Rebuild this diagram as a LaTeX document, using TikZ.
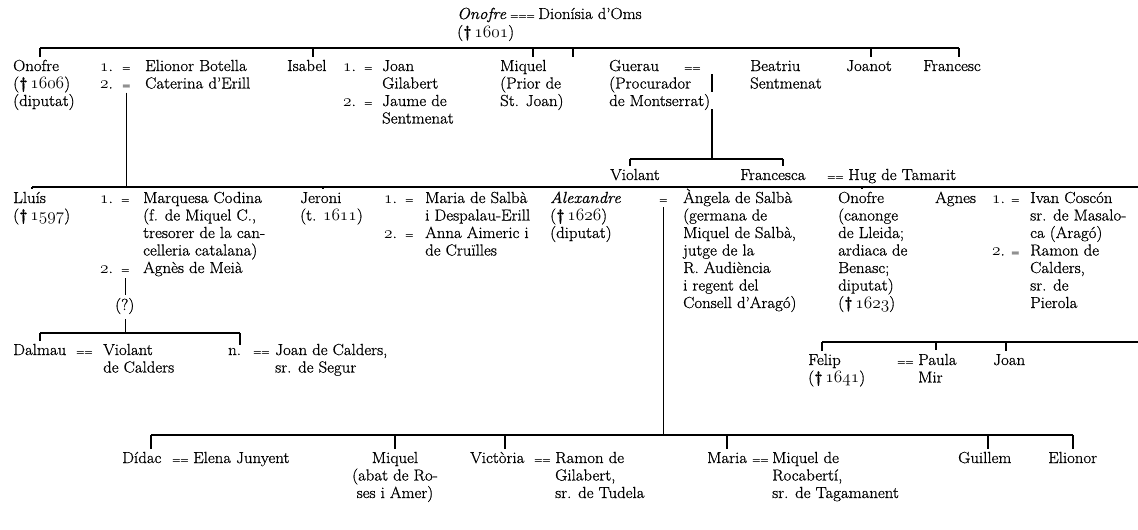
\documentclass[tikz,border=0pt]{standalone}
\usepackage{fontspec}
\setmainfont{Latin Modern Roman}[FakeStretch=1.05, FakeBold=0.8]
\usetikzlibrary{positioning}
\newcommand{\osf}[1]{{\fontencoding{OML}\fontfamily{cmm}\fontseries{m}\fontshape{it}\selectfont #1}}
\newcommand{\dagg}{{\bfseries\textdagger}\,}
\newcommand{\famtxt}[1]{\begin{tabular}[t]{@{}l@{}}#1\end{tabular}}
\newcommand{\famctr}[1]{\begin{tabular}[t]{@{}c@{}}#1\end{tabular}}
\tikzset{
  txt/.style={inner sep=0pt, anchor=base west, font=\fontsize{16}{17.5}\selectfont},
  eqs/.style={txt, font=\fontsize{10}{17.5}\selectfont},
  bar/.style={line width=1.2pt},
}

\begin{document}
\begin{tikzpicture}[x=1pt,y=1pt,yscale=-1,xscale=1]
\useasboundingbox (0,0) rectangle (1138,530);

% Text Node
\node[txt] (onofreA) at (457,19) {\textit{Onofre}};
\node[eqs] (eqA) at (510,19) {===};
\node[txt] (dionisia) at (538,19) {Dionísia d'Oms};
\node[txt] (onofreAx) at (457,37) {(\dagg\osf{1601})};

% Text Node
\node[txt] (onofreB) at (13,71) {Onofre};
\node[txt] (onofreBx) at (13,88.5) {\famtxt{(\dagg\osf{1606})\\(diputat)}};
\node[txt] (n1a) at (100,71) {\osf{1}.};
\node[eqs] (eq1a) at (122,71) {=};
\node[txt] (elionorB) at (145,71) {Elionor Botella};
\node[txt] (n1b) at (100,88.5) {\osf{2}.};
\node[eqs] (eq1b) at (122,88.5) {=};
\node[txt] (caterina) at (145,88.5) {Caterina d'Erill};
\node[txt] (isabel) at (287,71) {Isabel};
\node[txt] (n2a) at (343,71) {\osf{1}.};
\node[eqs] (eq2a) at (364,71) {=};
\node[txt] (joanG) at (382,71) {\famtxt{Joan\\Gilabert}};
\node[txt] (n2b) at (343,106) {\osf{2}.};
\node[eqs] (eq2b) at (364,106) {=};
\node[txt] (jaume) at (382,106) {\famtxt{Jaume de\\Sentmenat}};
\node[txt] (miquelB) at (500,71) {Miquel};
\node[txt] (miquelBx) at (500,88.5) {\famtxt{(Prior de\\St. Joan)}};
\node[txt] (guerau) at (609,71) {Guerau};
\node[txt] (guerauX) at (609,88.5) {\famtxt{(Procurador\\de Montserrat)}};
\node[eqs] (eqG) at (684,71) {==};
\node[txt] (beatriu) at (750,71) {\famtxt{Beatriu\\Sentmenat}};
\node[txt] (joanot) at (846,71) {Joanot};
\node[txt] (francesc) at (923,71) {Francesc};

% Text Node
\node[txt] (violant) at (610,180) {Violant};
\node[txt] (francesca) at (740,180) {Francesca};
\node[eqs] (eqF) at (827,180) {==};
\node[txt] (hug) at (848,180) {Hug de Tamarit};

% Text Node
\node[txt] (lluis) at (13,203) {Lluís};
\node[txt] (lluisX) at (13,220.5) {(\dagg\osf{1597})};
\node[txt] (n4a) at (100,203) {\osf{1}.};
\node[eqs] (eq4a) at (121,203) {=};
\node[txt] (marquesa) at (143,203) {\famtxt{Marquesa Codina\\(f. de Miquel C.,\\tresorer de la can-\\celleria catalana)}};
\node[txt] (n4b) at (100,273) {\osf{2}.};
\node[eqs] (eq4b) at (121,273) {=};
\node[txt] (agnesM) at (143,273) {Agnès de Meià};
\node[txt] (unsure) at (115,310) {(?)};
\node[txt] (jeroni) at (300,203) {Jeroni};
\node[txt] (jeroniX) at (300,220.5) {(t. \osf{1611})};
\node[txt] (n5a) at (384,203) {\osf{1}.};
\node[eqs] (eq5a) at (405,203) {=};
\node[txt] (mariaS) at (425,203) {\famtxt{Maria de Salbà\\i Despalau-Erill}};
\node[txt] (n5b) at (384,238) {\osf{2}.};
\node[eqs] (eq5b) at (405,238) {=};
\node[txt] (anna) at (425,238) {\famtxt{Anna Aimeric i\\de Cruïlles}};
\node[txt] (alexandre) at (550,203) {\textit{Alexandre}};
\node[txt] (alexandreX) at (550,220.5) {\famtxt{(\dagg\osf{1626})\\(diputat)}};
\node[eqs] (eqX) at (659,203) {=};
\node[txt] (angela) at (683,203) {\famtxt{Àngela de Salbà\\(germana de\\Miquel de Salbà,\\jutge de la\\R. Audiència\\i regent del\\Consell d'Aragó)}};
\node[txt] (onofreC) at (838,203) {Onofre};
\node[txt] (onofreCX) at (838,220.5) {\famtxt{(canonge\\de Lleida;\\ardiaca de\\Benasc;\\diputat)\\(\dagg\osf{1623})}};
\node[txt] (agnes) at (935,203) {Agnes};
\node[txt] (n6a) at (992,203) {\osf{1}.};
\node[eqs] (eq6a) at (1011,203) {=};
\node[txt] (ivan) at (1030,203) {\famtxt{Ivan Coscón\\sr. de Masalo-\\ca (Aragó)}};
\node[txt] (n6b) at (992,255.5) {\osf{2}.};
\node[eqs] (eq6b) at (1011,255.5) {=};
\node[txt] (ramonC) at (1030,255.5) {\famtxt{Ramon de\\Calders,\\sr. de\\Pierola}};

% Text Node
\node[txt] (dalmau) at (13,355) {Dalmau};
\node[eqs] (eqD) at (76,355) {==};
\node[txt] (violantC) at (103,355) {\famtxt{Violant\\de Calders}};
\node[txt] (nn) at (228,355) {n.};
\node[eqs] (eqN) at (253,355) {==};
\node[txt] (joanC) at (275,355) {\famtxt{Joan de Calders,\\sr. de Segur}};
\node[txt] (felip) at (808,365) {Felip};
\node[txt] (felipX) at (808,382.5) {(\dagg\osf{1641})};
\node[eqs] (eqP) at (897,365) {==};
\node[txt] (paula) at (918,365) {\famtxt{Paula\\Mir}};
\node[txt] (joanM) at (993,365) {Joan};

% Text Node
\node[txt] (didac) at (122,463) {Dídac};
\node[eqs] (eqDi) at (172,463) {==};
\node[txt] (elena) at (193,463) {Elena Junyent};
\node[txt, anchor=base] (miquelA) at (395,463) {Miquel};
\node[txt, anchor=base] (miquelAX) at (395,480.5) {\famctr{(abat de Ro-\\ses i Amer)}};
\node[txt] (victoria) at (470,463) {Victòria};
\node[eqs] (eqV) at (534,463) {==};
\node[txt] (ramonG) at (555,463) {\famtxt{Ramon de\\Gilabert,\\sr. de Tudela}};
\node[txt] (maria) at (707,463) {Maria};
\node[eqs] (eqM) at (752,463) {==};
\node[txt] (miquelR) at (772,463) {\famtxt{Miquel de\\Rocabertí,\\sr. de Tagamanent}};
\node[txt] (guillem) at (958,463) {Guillem};
\node[txt] (elionor) at (1048,463) {Elionor};

% Connection: children of Onofre and Dionísia
\coordinate (tOnofreB) at (40,48);
\coordinate (tIsabel) at (313,48);
\coordinate (tMiquelB) at (533,48);
\coordinate (tGuerau) at (573,48);
\coordinate (tJoanot) at (871,48);
\coordinate (tFrancesc) at (959,48);
\draw[bar] (tOnofreB) -- (tFrancesc);
\foreach \t/\n in {tOnofreB/onofreB, tIsabel/isabel, tMiquelB/miquelB, tGuerau/guerau, tJoanot/joanot, tFrancesc/francesc}
  \draw[bar, shorten >=3pt] (\t) -- (\t |- \n.north);

% Connection: children of Guerau
\coordinate (tViolant) at (630,159);
\coordinate (tFrancesca) at (783,159);
\coordinate (dGuerau) at (712,159);
\draw[bar] (tViolant) -- (tFrancesca);
\draw[bar] ([yshift=3pt]eqG.south -| dGuerau) -- ++(0,18);
\draw[bar] (dGuerau) ++(0,-50) -- (dGuerau);
\foreach \t/\n in {tViolant/violant, tFrancesca/francesca}
  \draw[bar, shorten >=3pt] (\t) -- (\t |- \n.north);

% Connection: children of Onofre and Caterina
\coordinate (tLluis) at (32,187);
\coordinate (tJeroni) at (323,187);
\coordinate (tAlexandre) at (607,187);
\coordinate (tOnofreC) at (862,187);
\coordinate (tAgnes) at (960,187);
\coordinate (endL3) at (1138,187);
\draw[bar] (tLluis) -- (endL3);
\draw[bar] ([yshift=4pt]eq1b.south) -- (eq1b.south |- tLluis);
\foreach \t/\n in {tLluis/lluis, tJeroni/jeroni, tAlexandre/alexandre, tOnofreC/onofreC, tAgnes/agnes}
  \draw[bar, shorten >=3pt] (\t) -- (\t |- \n.north);

% Connection: children of Lluís and Agnès
\coordinate (tDalmau) at (40,333);
\coordinate (tNn) at (240,333);
\draw[bar] (tDalmau) -- (tNn);
\draw[bar] ([yshift=5pt]eq4b.south) -- ([yshift=-3pt]unsure.north -| eq4b.south);
\draw[bar] ([yshift=5pt]unsure.south -| eq4b.south) -- (eq4b.south |- tDalmau);
\foreach \t/\n in {tDalmau/dalmau, tNn/nn}
  \draw[bar, shorten >=3pt] (\t) -- (\t |- \n.north);

% Connection: Felip, Paula, Joan
\coordinate (tFelip) at (822,342);
\coordinate (tPaula) at (936,342);
\coordinate (tJoanM) at (1006,342);
\coordinate (endL6) at (1138,342);
\draw[bar] (tFelip) -- (endL6);
\foreach \t/\n in {tFelip/felip, tPaula/paula, tJoanM/joanM}
  \draw[bar, shorten >=3pt] (\t) -- (\t |- \n.north);

% Connection: children of Alexandre and Àngela
\coordinate (tDidac) at (151,435);
\coordinate (tMiquelA) at (395,435);
\coordinate (tVictoria) at (505,435);
\coordinate (tMaria) at (727,435);
\coordinate (tGuillem) at (988,435);
\coordinate (tElionor) at (1073,435);
\draw[bar] (tDidac) -- (tElionor);
\draw[bar] ([yshift=4pt]eqX.south) -- (eqX.south |- tDidac);
\foreach \t/\n in {tDidac/didac, tMiquelA/miquelA, tVictoria/victoria, tMaria/maria, tGuillem/guillem, tElionor/elionor}
  \draw[bar, shorten >=3pt] (\t) -- (\t |- \n.north);

\end{tikzpicture}
\end{document}
